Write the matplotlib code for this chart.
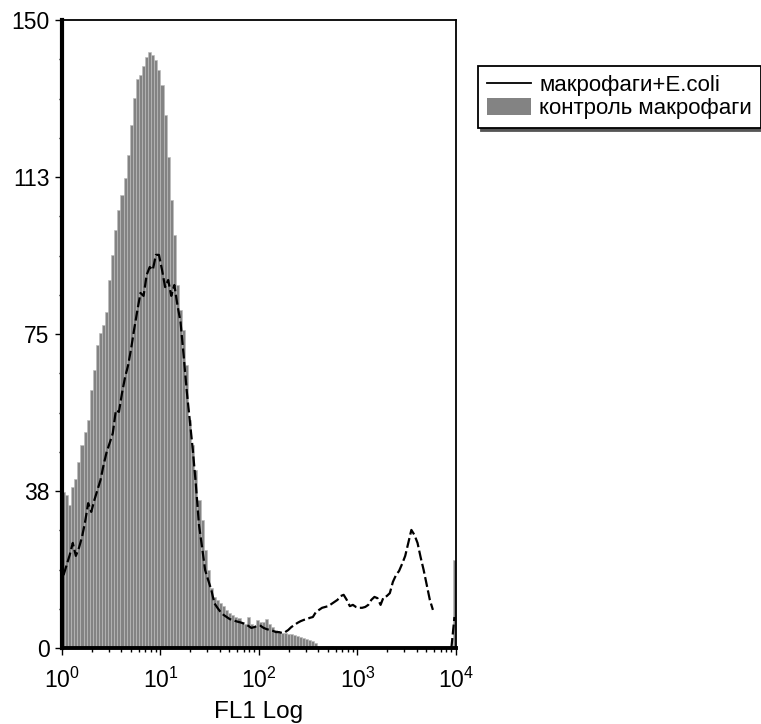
import numpy as np
import matplotlib
matplotlib.use("Agg")
import matplotlib.pyplot as plt
from matplotlib.lines import Line2D
from matplotlib.patches import Patch
from matplotlib.ticker import FixedLocator, NullFormatter

plt.rcParams['font.family'] = ['Liberation Sans', 'DejaVu Sans']
plt.rcParams['mathtext.fontset'] = 'custom'
plt.rcParams['mathtext.rm'] = 'Liberation Sans'
plt.rcParams['mathtext.it'] = 'Liberation Sans:italic'
plt.rcParams['mathtext.bf'] = 'Liberation Sans:bold'

nan = float('nan')

# ---- data (128 log channels over 10^0 .. 10^4) ----
control_counts = [
    37.3, 36.5, 34.2, 38.5, 40.4, 44.4, 48.5, 51.6, 54.5, 61.6,
    66.4, 72.4, 75.2, 77.1, 80.2, 87.9, 93.9, 99.8, 104.6, 108.2,
    112.3, 117.7, 124.9, 131.4, 135.9, 136.9, 139.0, 141.2, 142.3, 141.6,
    140.4, 138.0, 134.5, 127.3, 117.3, 107.0, 98.6, 86.7, 80.7, 75.9,
    67.6, 54.5, 48.5, 42.5, 35.3, 30.6, 23.4, 18.6, 14.3, 12.2,
    11.5, 10.7, 10.0, 9.1, 8.4, 7.9, 7.4, 7.2, 6.2, 5.7,
    7.4, 5.7, 5.3, 6.7, 6.2, 6.2, 6.9, 5.7, 5.0, 4.3,
    3.8, 3.6, 3.6, 3.3, 3.3, 3.1, 2.9, 2.6, 2.4, 2.1,
    1.9, 1.7, 1.2, 0.3, 0.0, 0.0, 0.0, 0.5, 0.0, 0.0,
    0.0, 0.0, 0.3, 0.0, 0.0, 0.0, 0.0, 0.0, 0.0, 0.0,
    0.0, 0.0, 0.0, 0.0, 0.0, 0.0, 0.0, 0.0, 0.0, 0.0,
    0.0, 0.0, 0.0, 0.0, 0.0, 0.0, 0.0, 0.0, 0.0, 0.0,
    0.0, 0.0, 0.0, 0.0, 0.0, 0.0, 0.0, 21.0,
]

ecoli_counts = [
    17.4, 19.8, 22.2, 25.1, 22.0, 23.9, 26.5, 30.1, 34.6, 32.5,
    35.3, 37.7, 40.1, 43.7, 46.8, 49.0, 51.3, 56.8, 56.4, 60.9,
    64.7, 67.6, 71.7, 76.4, 80.7, 84.8, 84.1, 89.1, 91.0, 90.3,
    93.9, 93.9, 90.3, 86.2, 87.9, 84.1, 86.7, 81.9, 77.9, 70.0,
    61.6, 54.5, 47.3, 38.9, 29.4, 24.1, 18.6, 16.2, 13.9, 10.7,
    9.6, 8.6, 7.9, 7.4, 6.9, 6.7, 6.4, 6.2, 6.0, 5.7,
    5.3, 4.8, 5.0, 5.3, 5.3, 4.8, 4.5, 4.3, 4.1, 3.8,
    3.8, 3.6, 3.8, 4.3, 5.0, 5.5, 6.0, 6.4, 6.7, 6.9,
    7.2, 7.4, 8.6, 9.1, 9.6, 9.8, 10.0, 10.5, 11.0, 11.5,
    12.4, 12.7, 11.5, 10.0, 10.3, 9.8, 9.6, 9.6, 9.8, 10.3,
    11.5, 12.2, 11.9, 10.3, 12.2, 12.4, 13.1, 15.8, 17.4, 18.4,
    20.1, 22.0, 25.1, 28.2, 27.0, 25.1, 21.7, 18.6, 15.0, 11.5,
    9.1, nan, nan, nan, nan, nan, 0.0, 7.4,
]

label_ecoli = "макрофаги+E.coli"
label_control = "контроль макрофаги"
x_label = "FL1 Log"
ytick_values = [0, 37.5, 75, 112.5, 150]
ytick_labels = ["0", "38", "75", "113", "150"]

n = len(control_counts)
edges = np.logspace(0, 4, n + 1)
centers = np.sqrt(edges[:-1] * edges[1:])

fig = plt.figure(figsize=(7.61, 7.24), dpi=100)
ax = fig.add_axes([62 / 761, 76 / 724, 394 / 761, 628 / 724])

ax.bar(edges[:-1], control_counts, width=np.diff(edges), align='edge',
       color='#838383', edgecolor='#bcbcbc', linewidth=0.45, zorder=2)
ax.plot(centers, ecoli_counts, color='black', lw=1.6,
        linestyle=(0, (4.5, 1.6)), zorder=3)

ax.set_xscale('log')
ax.set_xlim(1, 1e4)
ax.set_ylim(0, 150)

ax.set_yticks(ytick_values)
ax.set_yticklabels(ytick_labels)
ax.yaxis.set_minor_locator(FixedLocator(np.arange(0, 150.1, 9.375)))
ax.tick_params(axis='y', which='major', direction='out', length=5, width=1, labelsize=16.5, pad=4)
ax.tick_params(axis='y', which='minor', direction='out', length=2.5, width=1)
ax.tick_params(axis='x', which='major', direction='out', length=5, width=1, labelsize=16.5, pad=9)
ax.tick_params(axis='x', which='minor', direction='out', length=3, width=1)
ax.xaxis.set_minor_formatter(NullFormatter())

ax.spines['left'].set_linewidth(3.0)
ax.spines['bottom'].set_linewidth(2.8)
ax.spines['top'].set_linewidth(1.3)
ax.spines['right'].set_linewidth(1.3)

ax.set_xlabel(x_label, fontsize=17.5, labelpad=6)

handles = [Line2D([0], [0], color='black', lw=1.3),
           Patch(facecolor='#838383', edgecolor='none')]
leg = fig.legend(handles, [label_ecoli, label_control],
                 loc='upper left', bbox_to_anchor=(478 / 761, 1 - 66 / 724),
                 fontsize=16, frameon=True, fancybox=False,
                 shadow={'color': '#555555', 'alpha': 1.0},
                 handlelength=2.0, handleheight=0.85, handletextpad=0.35,
                 labelspacing=0.05, borderpad=0.4, borderaxespad=0)
leg.get_frame().set_edgecolor('black')
leg.get_frame().set_linewidth(1.3)

fig.savefig('out.png', dpi=100)
